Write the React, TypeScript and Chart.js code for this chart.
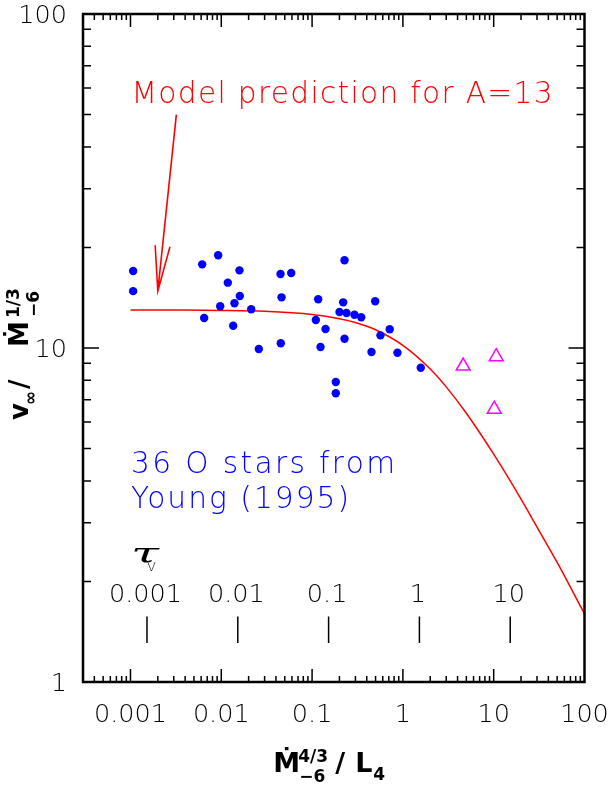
import React, { useEffect, useRef } from "react";
import { Chart, registerables } from "chart.js";

Chart.register(...registerables);

// ---------- data ----------
const starX = [
  0.00107, 0.00107, 0.00616, 0.00924, 0.01586, 0.0118, 0.016, 0.01397, 0.00973,
  0.00648, 0.01352, 0.02135, 0.0259, 0.0449, 0.0589, 0.0461, 0.0452, 0.1167,
  0.1099, 0.1406, 0.1238, 0.1824, 0.1824, 0.2276, 0.22, 0.4955, 0.2005, 0.2394,
  0.2931, 0.3476, 0.2276, 0.716, 0.566, 0.451, 0.871, 1.574,
];
const starY = [
  17.0, 14.8, 17.8, 18.95, 17.08, 15.69, 14.31, 13.61, 13.33, 12.3, 11.66, 13.06,
  9.93, 16.66, 16.77, 14.18, 10.33, 13.99, 12.13, 11.4, 10.07, 7.91, 7.32, 18.31,
  13.7, 13.8, 12.82, 12.73, 12.58, 12.36, 10.66, 11.38, 10.91, 9.73, 9.68, 8.73,
];
const triX = [4.61, 10.66, 10.14];
const triY = [8.83, 9.42, 6.56];
const modelX = [0.001, 0.003, 0.01, 0.03, 0.1, 0.2, 0.3, 0.5, 1, 2, 3, 5, 10, 20, 30, 50, 100];
const modelY = [13.0, 12.99, 12.96, 12.88, 12.6, 12.24, 11.92, 11.34, 10.18, 8.65, 7.65, 6.38, 4.81, 3.53, 2.91, 2.28, 1.6];

const xTickValues = [0.001, 0.01, 0.1, 1, 10, 100];
const xTickLabels = ["0.001", "0.01", "0.1", "1", "10", "100"];
const yTickValues = [1, 10, 100];
const yTickLabels = ["1", "10", "100"];
const tauTicks = [0.001, 0.01, 0.1, 1, 10];
const tauLabels = ["0.001", "0.01", "0.1", "1", "10"];
const tauToX = 1.52;

const arrowTail = { x: 0.0032, y: 50 };
const arrowTip = { x: 0.002, y: 14.8 };

const X_MIN = 3.04e-4;
const X_MAX = 100;
const Y_MIN = 1;
const Y_MAX = 100;

const FAM = '"DejaVu Sans"';
const THIN = "200";

function logTicks(min: number, max: number) {
  const out: { v: number; major: boolean }[] = [];
  for (let e = Math.floor(Math.log10(min)); e <= Math.ceil(Math.log10(max)); e++) {
    for (let m = 1; m < 10; m++) {
      const v = m * Math.pow(10, e);
      if (v >= min * 0.9999 && v <= max * 1.0001) out.push({ v, major: m === 1 });
    }
  }
  return out;
}

function fitText(ctx: CanvasRenderingContext2D, text: string, x: number, y: number, targetW: number) {
  (ctx as any).letterSpacing = "0px";
  const w = ctx.measureText(text).width;
  const n = Array.from(text).length;
  const sp = n > 1 ? (targetW - w) / (n - 1) : 0;
  (ctx as any).letterSpacing = sp + "px";
  ctx.fillText(text, x, y);
  (ctx as any).letterSpacing = "0px";
}

type Seg = { t: string; dx: number; dy: number; size: number };
function drawSegs(ctx: CanvasRenderingContext2D, segs: Seg[], weight: string) {
  for (const s of segs) {
    ctx.font = `${weight} ${s.size}px ${FAM}`;
    ctx.fillText(s.t, s.dx, s.dy);
  }
}

const deco = {
  id: "deco",
  afterDatasetsDraw(chart: any) {
    const { ctx, chartArea: a, scales } = chart;
    const xs = scales.x;
    const ys = scales.y;
    ctx.save();
    ctx.strokeStyle = "#000";
    ctx.fillStyle = "#000";

    // ticks on all four sides
    ctx.lineWidth = 1.5;
    ctx.beginPath();
    for (const t of logTicks(X_MIN, X_MAX)) {
      const px = xs.getPixelForValue(t.v);
      if (px <= a.left + 1 || px >= a.right - 1) continue;
      const len = t.major ? 13 : 6;
      ctx.moveTo(px, a.bottom);
      ctx.lineTo(px, a.bottom - len);
      ctx.moveTo(px, a.top);
      ctx.lineTo(px, a.top + len);
    }
    for (const t of logTicks(Y_MIN, Y_MAX)) {
      const py = ys.getPixelForValue(t.v);
      if (py <= a.top + 1 || py >= a.bottom - 1) continue;
      const len = t.major ? 16 : 8;
      ctx.moveTo(a.left, py);
      ctx.lineTo(a.left + len, py);
      ctx.moveTo(a.right, py);
      ctx.lineTo(a.right - len, py);
    }
    ctx.stroke();

    // frame
    ctx.lineWidth = 2.5;
    ctx.strokeRect(a.left, a.top, a.right - a.left, a.bottom - a.top);

    // tick labels
    ctx.font = `${THIN} 25.5px ${FAM}`;
    ctx.textBaseline = "alphabetic";
    ctx.textAlign = "center";
    xTickValues.forEach((v, i) => {
      ctx.fillText(xTickLabels[i], xs.getPixelForValue(v), a.bottom + 39.5);
    });
    ctx.textAlign = "right";
    yTickValues.forEach((v, i) => {
      ctx.fillText(yTickLabels[i], 67, ys.getPixelForValue(v) + 9);
    });

    // tau_V secondary scale
    ctx.textAlign = "center";
    ctx.lineWidth = 1.5;
    ctx.beginPath();
    tauTicks.forEach((tv, i) => {
      const px = xs.getPixelForValue(tv * tauToX);
      ctx.fillText(tauLabels[i], px - 1.5, a.bottom - 80.5);
      ctx.moveTo(px, a.bottom - 65.5);
      ctx.lineTo(px, a.bottom - 39);
    });
    ctx.stroke();
    // tau symbol
    ctx.save();
    ctx.textAlign = "left";
    ctx.font = `italic 28px "DejaVu Serif"`;
    const tw = ctx.measureText("τ").width;
    ctx.translate(131, a.bottom - 119);
    ctx.scale(28 / tw, 1);
    ctx.fillText("τ", 0, 0);
    ctx.restore();
    ctx.textAlign = "left";
    ctx.font = `${THIN} 13px ${FAM}`;
    ctx.fillText("V", 147, a.bottom - 111.5);

    // red annotation
    ctx.fillStyle = "#ff0000";
    ctx.strokeStyle = "#ff0000";
    ctx.textAlign = "left";
    ctx.font = `${THIN} 29.6px ${FAM}`;
    fitText(ctx, "Model prediction for A=13", 131.5, 103.3, 421);

    // arrow
    const tx = xs.getPixelForValue(arrowTail.x);
    const ty = ys.getPixelForValue(arrowTail.y);
    const hx = xs.getPixelForValue(arrowTip.x);
    const hy = ys.getPixelForValue(arrowTip.y);
    const ang = Math.atan2(ty - hy, tx - hx);
    const hl = 46;
    const ha = (9.3 * Math.PI) / 180;
    ctx.lineWidth = 1.6;
    ctx.beginPath();
    ctx.moveTo(tx, ty);
    ctx.lineTo(hx, hy);
    ctx.moveTo(hx + hl * Math.cos(ang + ha), hy + hl * Math.sin(ang + ha));
    ctx.lineTo(hx, hy);
    ctx.lineTo(hx + hl * Math.cos(ang - ha), hy + hl * Math.sin(ang - ha));
    ctx.stroke();

    // blue annotation
    ctx.fillStyle = "#0000ff";
    ctx.font = `${THIN} 29.6px ${FAM}`;
    fitText(ctx, "36 O stars from", 131, 473, 264);
    fitText(ctx, "Young (1995)", 131, 508, 218);

    // axis titles
    ctx.fillStyle = "#000";
    ctx.textAlign = "left";
    const cx = (a.left + a.right) / 2 - 3.5;
    ctx.save();
    ctx.translate(cx, 772);
    drawSegs(
      ctx,
      [
        { t: "Ṁ", dx: -57, dy: 0, size: 27 },
        { t: "4/3", dx: -32, dy: -10, size: 17 },
        { t: "−6", dx: -31, dy: 10, size: 17 },
        { t: "/", dx: 5, dy: 0, size: 27 },
        { t: "L", dx: 25, dy: 0, size: 27 },
        { t: "4", dx: 43, dy: 8, size: 17 },
      ],
      "bold"
    );
    ctx.restore();

    ctx.save();
    ctx.translate(28.3, 420);
    ctx.rotate(-Math.PI / 2);
    drawSegs(
      ctx,
      [
        { t: "v", dx: 0, dy: 0, size: 26 },
        { t: "∞", dx: 15, dy: 8, size: 17 },
        { t: "/", dx: 31, dy: 0, size: 26 },
        { t: "Ṁ", dx: 73, dy: 0, size: 26 },
        { t: "1/3", dx: 102, dy: -9, size: 17 },
        { t: "−6", dx: 103, dy: 11, size: 17 },
      ],
      "bold"
    );
    ctx.restore();

    ctx.restore();
  },
};

export default function App() {
  const ref = useRef<HTMLCanvasElement>(null);
  useEffect(() => {
    if (!ref.current) return;
    const chart = new Chart(ref.current, {
      type: "scatter",
      data: {
        datasets: [
          {
            label: "O stars",
            data: starX.map((x, i) => ({ x, y: starY[i] })),
            pointRadius: 4.2,
            pointBackgroundColor: "#0000ff",
            pointBorderWidth: 0,
            borderColor: "#0000ff",
            backgroundColor: "#0000ff",
          },
          {
            label: "luminous",
            data: triX.map((x, i) => ({ x, y: triY[i] })),
            pointStyle: "triangle",
            pointRadius: 8,
            pointBorderColor: "#ff00ff",
            pointBackgroundColor: "rgba(0,0,0,0)",
            pointBorderWidth: 1.5,
            borderColor: "#ff00ff",
            backgroundColor: "rgba(0,0,0,0)",
          },
          {
            label: "model",
            data: modelX.map((x, i) => ({ x, y: modelY[i] })),
            showLine: true,
            pointRadius: 0,
            borderColor: "#ff0000",
            borderWidth: 1.5,
            cubicInterpolationMode: "monotone",
            backgroundColor: "#ff0000",
          } as any,
        ],
      },
      options: {
        responsive: false,
        animation: false,
        layout: { padding: { left: 83, right: 614 - 584.5, top: 14, bottom: 785 - 682 } },
        scales: {
          x: { type: "logarithmic", min: X_MIN, max: X_MAX, display: false },
          y: { type: "logarithmic", min: Y_MIN, max: Y_MAX, display: false },
        },
        plugins: { legend: { display: false }, tooltip: { enabled: false } },
      },
      plugins: [deco],
    });
    return () => chart.destroy();
  }, []);
  return (
    <canvas
      ref={ref}
      width={614}
      height={785}
      style={{ position: "fixed", left: 0, top: 0, width: 614, height: 785, display: "block" }}
    />
  );
}
